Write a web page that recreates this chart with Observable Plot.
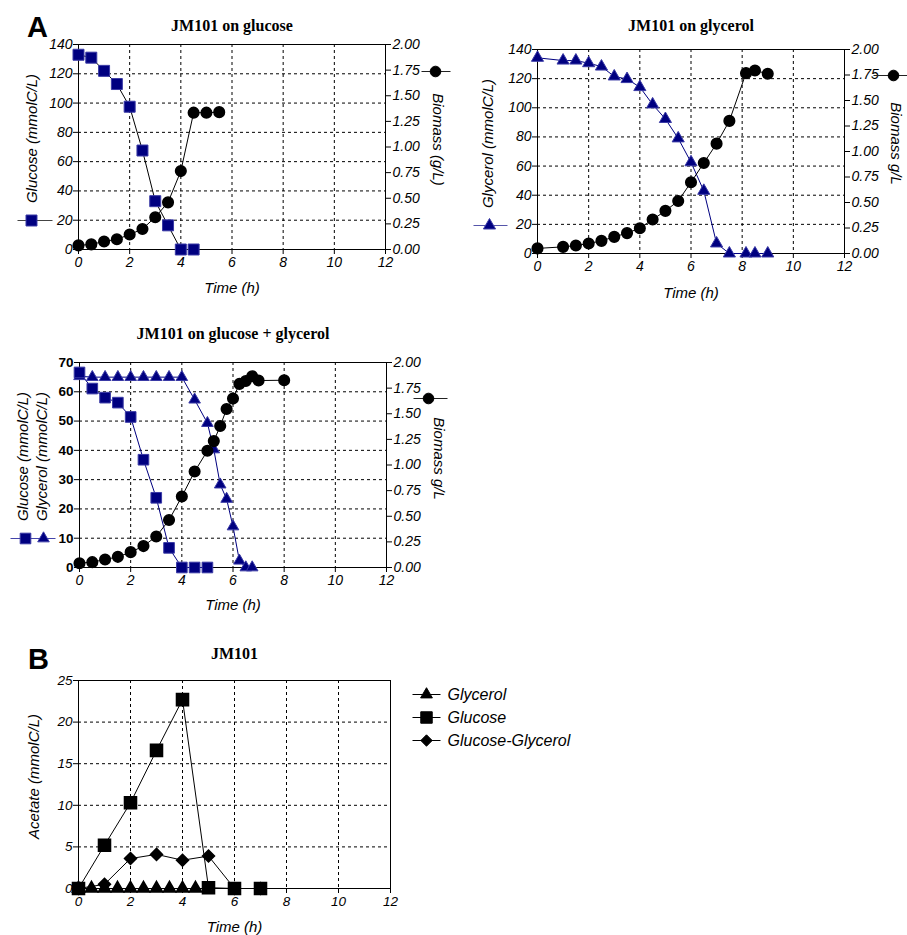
<!DOCTYPE html>
<html><head><meta charset="utf-8">
<script src="https://cdn.jsdelivr.net/npm/d3@7"></script>
<script src="https://cdn.jsdelivr.net/npm/@observablehq/plot@0.6"></script>
<style>
body{margin:0;background:#fff;}
#wrap{position:relative;width:907px;height:935px;overflow:hidden;}
.panel{position:absolute;}
</style></head><body><div id="wrap"></div>
<script>
// ---------- data ----------
const xTicks = [0, 2, 4, 6, 8, 10, 12];
const bioTicks = [0, 0.25, 0.5, 0.75, 1, 1.25, 1.5, 1.75, 2];

// Panel A1: JM101 on glucose
const a1Ticks = [0, 20, 40, 60, 80, 100, 120, 140];
const a1GluTime = [0, 0.5, 1, 1.5, 2, 2.5, 3, 3.5, 4, 4.5];
const a1Glucose = [133, 131, 122, 113, 97.5, 67.6, 33, 16.5, 0, 0];
const a1BioTime = [0, 0.5, 1, 1.5, 2, 2.5, 3, 3.5, 4, 4.5, 5, 5.5];
const a1Biomass = [0.04, 0.05, 0.078, 0.10, 0.146, 0.20, 0.315, 0.46, 0.765, 1.335, 1.335, 1.34];

// Panel A2: JM101 on glycerol
const a2Ticks = [0, 20, 40, 60, 80, 100, 120, 140];
const a2GlyTime = [0, 1, 1.5, 2, 2.5, 3, 3.5, 4, 4.5, 5, 5.5, 6, 6.5, 7, 7.5, 8.15, 8.5, 9];
const a2Glycerol = [134.3, 132.4, 132.4, 130.6, 128.3, 121.5, 119.7, 114.2, 102.3, 92.3, 79, 62.6, 43, 6.9, 0, 0, 0, 0];
const a2BioTime = [0, 1, 1.5, 2, 2.5, 3, 3.5, 4, 4.5, 5, 5.5, 6, 6.5, 7, 7.5, 8.15, 8.5, 9];
const a2Biomass = [0.05, 0.065, 0.078, 0.098, 0.124, 0.163, 0.20, 0.248, 0.333, 0.418, 0.515, 0.698, 0.887, 1.077, 1.30, 1.768, 1.794, 1.762];

// Panel A3: JM101 on glucose + glycerol
const a3Ticks = [0, 10, 20, 30, 40, 50, 60, 70];
const a3GluTime = [0, 0.5, 1, 1.5, 2, 2.5, 3, 3.5, 4, 4.5, 5];
const a3Glucose = [66.6, 61.1, 58, 56.3, 51.4, 36.8, 23.8, 6.7, 0, 0, 0];
const a3GlyTime = [0, 0.5, 1, 1.5, 2, 2.5, 3, 3.5, 4, 4.5, 5, 5.25, 5.5, 5.75, 6, 6.25, 6.5, 6.75];
const a3Glycerol = [65.3, 65, 65, 65, 65, 65, 65, 65, 65, 57.3, 49.3, 40.3, 28.3, 23.4, 14, 2.3, 0, 0];
const a3BioTime = [0, 0.5, 1, 1.5, 2, 2.5, 3, 3.5, 4, 4.5, 5, 5.25, 5.5, 5.75, 6, 6.25, 6.5, 6.75, 7, 8];
const a3Biomass = [0.042, 0.052, 0.078, 0.104, 0.15, 0.209, 0.303, 0.463, 0.692, 0.936, 1.139, 1.233, 1.38, 1.546, 1.648, 1.791, 1.82, 1.866, 1.824, 1.827];

// Panel B: acetate
const bTicks = [0, 5, 10, 15, 20, 25];
const bGlyTime = [0, 0.5, 1, 1.5, 2, 2.5, 3, 3.5, 4, 4.5];
const bGlycerol = [0, 0, 0, 0, 0, 0, 0, 0, 0, 0];
const bGluTime = [0, 1, 2, 3, 4, 5, 6, 7];
const bGlucose = [0, 5.2, 10.3, 16.6, 22.7, 0.1, 0, 0];
const bMixTime = [0, 1, 2, 3, 4, 5, 6, 7];
const bMix = [0, 0.5, 3.6, 4.1, 3.4, 3.9, 0, 0];
const bLegend = ["Glycerol", "Glucose", "Glucose-Glycerol"];

// ---------- helpers ----------
const NAVY = "#000080";
const EDGE = "#3a3aa6";
const SANS = "Liberation Sans, Arial, Helvetica, sans-serif";
const SERIF = "Liberation Serif, Times New Roman, serif";
const baseStyle = {fontFamily: SANS, fontStyle: "italic", fontSize: "14px", background: "transparent", overflow: "visible", color: "black"};
const rows = (t, v) => t.map((x, i) => ({t: x, v: v[i]}));
const hline = (half) => ({draw(ctx) { ctx.moveTo(-half, 0); ctx.lineTo(half, 0); }});
const grid = {stroke: "black", strokeOpacity: 1, strokeDasharray: "3,3", strokeWidth: 1};

function base(yTicks, k, leftOpts = {}, fs = 14) {
  const m = [
    Plot.gridX(xTicks.filter(v => v > 0 && v < 12), grid),
    Plot.gridY(yTicks.slice(1, -1), grid),
    Plot.frame({stroke: "black", strokeWidth: 1}),
    Plot.axisX(xTicks, {tickSize: 5, tickPadding: 3, label: null, fontSize: fs}),
    Plot.axisY(yTicks, {anchor: "left", tickSize: 5, tickPadding: 1, label: null, fontSize: fs, ...leftOpts})
  ];
  if (k) m.push(Plot.axisY(bioTicks.map(v => v * k), {anchor: "right", tickSize: 5, tickPadding: 2, label: null, fontSize: fs, tickFormat: v => (v / k).toFixed(2)}));
  return m;
}
function txt(s, o) {
  return Plot.text([s], {text: d => d, textAnchor: "middle", lineAnchor: "middle", ...o});
}
function title(s, dy) { return txt(s, {frameAnchor: "top", dy, fontFamily: SERIF, fontWeight: "bold", fontStyle: "normal", fontSize: 16}); }
function letter(s, dx, dy) { return txt(s, {frameAnchor: "top-left", dx, dy, fontFamily: SANS, fontWeight: "bold", fontStyle: "normal", fontSize: 29}); }
function timeLabel(dy) { return txt("Time (h)", {frameAnchor: "bottom", dy, fontSize: 15}); }
function keyLine(anchor, dx, dy, half, color) {
  return Plot.dot([0], {frameAnchor: anchor, dx, dy, symbol: hline(half), fill: "none", stroke: color, strokeWidth: 1});
}
function keyMark(anchor, dx, dy, symbol, r, fill, stroke) {
  return Plot.dot([0], {frameAnchor: anchor, dx, dy, symbol, r, fill, stroke, strokeWidth: 1});
}
function place(svg, left, top) {
  const d = document.createElement("div");
  d.className = "panel";
  d.style.left = left + "px";
  d.style.top = top + "px";
  d.appendChild(svg);
  document.getElementById("wrap").appendChild(d);
}

// ---------- Panel A1 ----------
{
  const k = 70;
  place(Plot.plot({
    width: 460, height: 305, marginLeft: 78, marginRight: 75, marginTop: 44, marginBottom: 56,
    style: baseStyle,
    x: {domain: [0, 12]}, y: {domain: [0, 140]},
    marks: [
      ...base(a1Ticks, k),
      Plot.line(rows(a1GluTime, a1Glucose), {x: "t", y: "v", stroke: "black", strokeWidth: 1}),
      Plot.line(rows(a1BioTime, a1Biomass), {x: "t", y: d => d.v * k, stroke: "black", strokeWidth: 1}),
      Plot.dot(rows(a1GluTime, a1Glucose), {x: "t", y: "v", symbol: "square", r: 6.2, fill: NAVY, stroke: EDGE, strokeWidth: 1}),
      Plot.dot(rows(a1BioTime, a1Biomass), {x: "t", y: d => d.v * k, r: 5.3, fill: "black", stroke: "black"}),
      title("JM101 on glucose", -19),
      letter("A", -41, -17),
      timeLabel(39),
      txt("Glucose (mmolC/L)", {frameAnchor: "left", dx: -46, dy: -8.5, rotate: -90, fontSize: 15}),
      txt("Biomass (g/L)", {frameAnchor: "right", dx: 52, dy: -7.5, rotate: 90, fontSize: 15}),
      keyLine("left", -43.5, 73.5, 17.5, "#444"),
      keyMark("left", -47, 73.5, "square", 6.2, NAVY, EDGE),
      keyLine("top-right", 50.5, 27, 14.5, "#222"),
      keyMark("top-right", 50, 27, "circle", 5.3, "black", "black")
    ]
  }), 0, 0);
}

// ---------- Panel A2 ----------
{
  const k = 70;
  place(Plot.plot({
    width: 447, height: 305, marginLeft: 77, marginRight: 63, marginTop: 49, marginBottom: 52,
    style: baseStyle,
    x: {domain: [0, 12]}, y: {domain: [0, 140]},
    marks: [
      ...base(a2Ticks, k),
      Plot.line(rows(a2GlyTime, a2Glycerol), {x: "t", y: "v", stroke: NAVY, strokeWidth: 1}),
      Plot.line(rows(a2BioTime, a2Biomass), {x: "t", y: d => d.v * k, stroke: "black", strokeWidth: 1}),
      Plot.dot(rows(a2GlyTime, a2Glycerol), {x: "t", y: "v", symbol: "triangle", r: 4.5, fill: NAVY, stroke: EDGE, strokeWidth: 1}),
      Plot.dot(rows(a2BioTime, a2Biomass), {x: "t", y: d => d.v * k, r: 5.3, fill: "black", stroke: "black"}),
      title("JM101 on glycerol", -24),
      timeLabel(40),
      txt("Glycerol (mmolC/L)", {frameAnchor: "left", dx: -49, dy: -8, rotate: -90, fontSize: 15}),
      txt("Biomass g/L", {frameAnchor: "right", dx: 51, dy: -8, rotate: 90, fontSize: 15}),
      keyLine("left", -47, 74, 17, "#5555aa"),
      keyMark("left", -48, 74, "triangle", 4.5, NAVY, EDGE),
      keyLine("top-right", 46, 26, 17, "#222"),
      keyMark("top-right", 49, 26, "circle", 5.3, "black", "black")
    ]
  }), 460, 0);
}

// ---------- Panel A3 ----------
{
  const k = 35;
  place(Plot.plot({
    width: 460, height: 310, marginLeft: 79, marginRight: 74, marginTop: 52, marginBottom: 53,
    style: baseStyle,
    x: {domain: [0, 12]}, y: {domain: [0, 70]},
    marks: [
      ...base(a3Ticks, k, {fontWeight: "bold", fontStyle: "normal", fontSize: 13.5}),
      Plot.line(rows(a3GluTime, a3Glucose), {x: "t", y: "v", stroke: NAVY, strokeWidth: 1}),
      Plot.line(rows(a3GlyTime, a3Glycerol), {x: "t", y: "v", stroke: NAVY, strokeWidth: 1}),
      Plot.line(rows(a3BioTime, a3Biomass), {x: "t", y: d => d.v * k, stroke: "black", strokeWidth: 1}),
      Plot.dot(rows(a3GlyTime, a3Glycerol), {x: "t", y: "v", symbol: "triangle", r: 4.3, fill: NAVY, stroke: EDGE, strokeWidth: 1}),
      Plot.dot(rows(a3GluTime, a3Glucose), {x: "t", y: "v", symbol: "square", r: 6, fill: NAVY, stroke: EDGE, strokeWidth: 1}),
      Plot.dot(rows(a3BioTime, a3Biomass), {x: "t", y: d => d.v * k, r: 5.3, fill: "black", stroke: "black"}),
      title("JM101 on glucose + glycerol", -29),
      timeLabel(38),
      txt("Glucose (mmolC/L)", {frameAnchor: "left", dx: -56, dy: -8.5, rotate: -90, fontSize: 15}),
      txt("Glycerol (mmolC/L)", {frameAnchor: "left", dx: -37, dy: -8.5, rotate: -90, fontSize: 15}),
      txt("Biomass g/L", {frameAnchor: "right", dx: 52, dy: -6.5, rotate: 90, fontSize: 15}),
      keyLine("left", -46.5, 73.5, 22.5, "#4444aa"),
      keyMark("left", -54, 73.5, "square", 6, NAVY, EDGE),
      keyMark("left", -36, 73.5, "triangle", 4.3, NAVY, EDGE),
      keyLine("top-right", 44, 36, 17, "#222"),
      keyMark("top-right", 42, 36, "circle", 5.3, "black", "black")
    ]
  }), 0, 310);
}

// ---------- Panel B ----------
{
  const syms = ["triangle", "square", "diamond2"];
  const rs = [4.6, 6.8, 5.4];
  place(Plot.plot({
    width: 620, height: 305, marginLeft: 78, marginRight: 230, marginTop: 50, marginBottom: 47,
    style: {...baseStyle, fontSize: "13.5px"},
    x: {domain: [0, 12]}, y: {domain: [0, 25]},
    marks: [
      ...base(bTicks, null, {}, 13.5),
      Plot.line(rows(bGlyTime, bGlycerol), {x: "t", y: "v", stroke: "black", strokeWidth: 1}),
      Plot.line(rows(bMixTime, bMix), {x: "t", y: "v", stroke: "black", strokeWidth: 1}),
      Plot.line(rows(bGluTime, bGlucose), {x: "t", y: "v", stroke: "black", strokeWidth: 1}),
      Plot.dot(rows(bGlyTime, bGlycerol), {x: "t", y: "v", symbol: "triangle", r: rs[0], fill: "black", stroke: "black"}),
      Plot.dot(rows(bMixTime, bMix), {x: "t", y: "v", symbol: "diamond2", r: rs[2], fill: "black", stroke: "black"}),
      Plot.dot(rows(bGluTime, bGlucose), {x: "t", y: "v", symbol: "square", r: rs[1], fill: "black", stroke: "black"}),
      title("JM101", -27),
      letter("B", -40, -21),
      timeLabel(39),
      txt("Acetate (mmolC/L)", {frameAnchor: "left", dx: -44, dy: -8, rotate: -90, fontSize: 15}),
      ...bLegend.flatMap((name, i) => [
        keyLine("top-right", 36, 14 + 23 * i, 14, "black"),
        keyMark("top-right", 36, 14 + 23 * i, syms[i], rs[i] * 0.95, "black", "black"),
        txt(name, {frameAnchor: "top-right", dx: 57, dy: 14 + 23 * i, textAnchor: "start", fontSize: 16})
      ])
    ]
  }), 0, 630);
}
</script>
</body></html>
